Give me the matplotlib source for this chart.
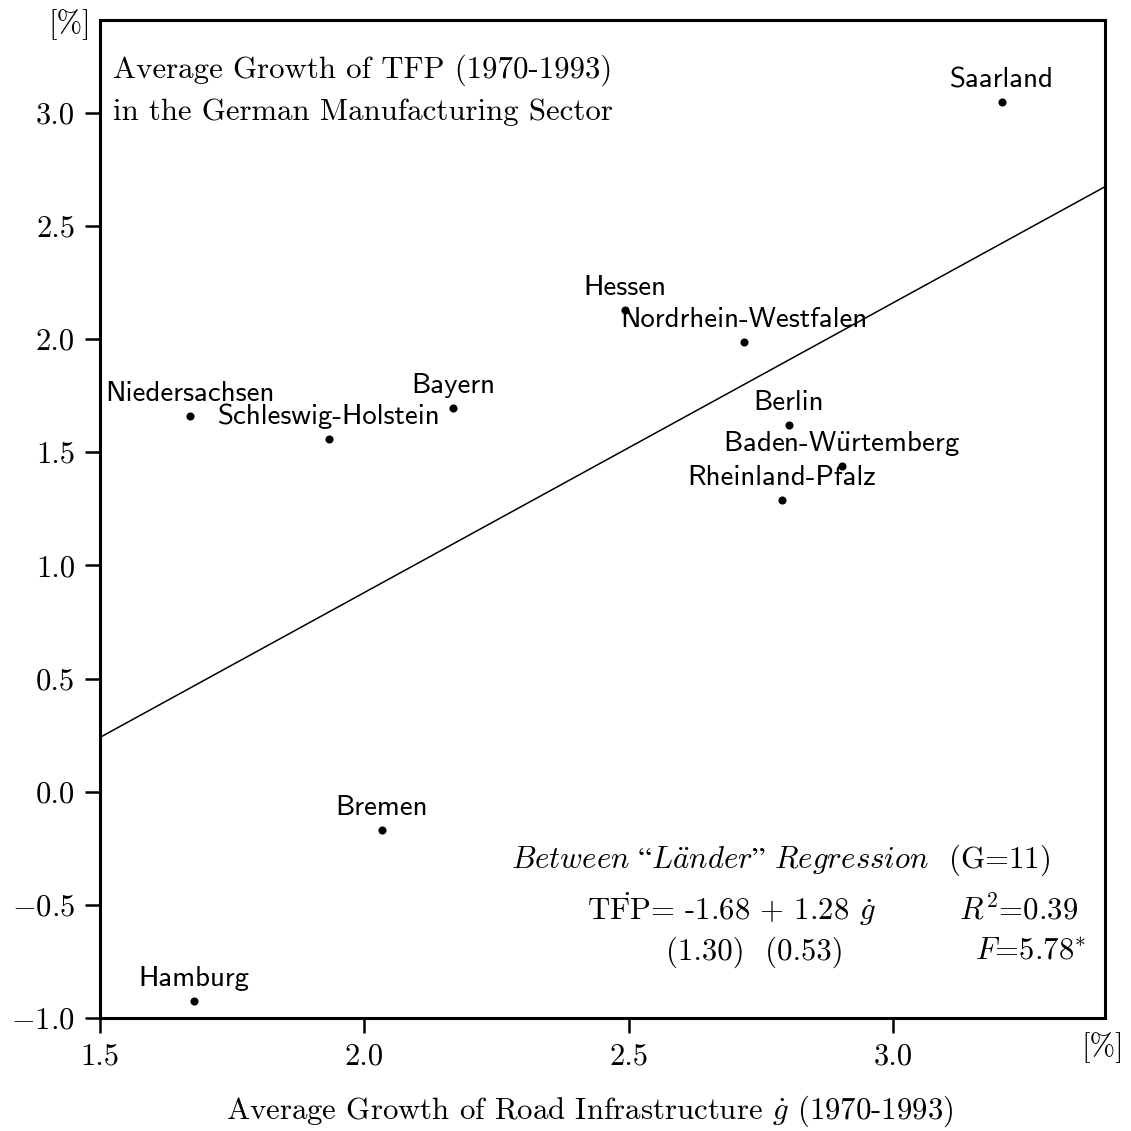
import matplotlib
matplotlib.use("Agg")
import matplotlib.pyplot as plt
import numpy as np

plt.rcParams['mathtext.fontset'] = 'cm'
plt.rcParams['font.family'] = ['cmr10', 'DejaVu Serif']
plt.rcParams['axes.unicode_minus'] = False

# Data
regions = ["Saarland", "Hessen", "Nordrhein-Westfalen", "Bayern", "Niedersachsen",
           "Schleswig-Holstein", "Berlin", r"Baden-W$\ddot{\mathsf{u}}$rtemberg",
           "Rheinland-Pfalz", "Bremen", "Hamburg"]
road_growth = [3.206, 2.493, 2.718, 2.168, 1.670, 1.933, 2.803, 2.903, 2.790, 2.033, 1.678]
tfp_growth = [3.049, 2.129, 1.988, 1.696, 1.661, 1.559, 1.621, 1.440, 1.289, -0.169, -0.925]
intercept = -1.68
slope = 1.28
xticks = [1.5, 2.0, 2.5, 3.0]
xticklabels = ["1.5", "2.0", "2.5", "3.0"]
yticks = [-1.0, -0.5, 0.0, 0.5, 1.0, 1.5, 2.0, 2.5, 3.0]
yticklabels = [r"$-1.0$", r"$-0.5$", "0.0", "0.5", "1.0", "1.5", "2.0", "2.5", "3.0"]

W = H = 1131
fig = plt.figure(figsize=(W / 100, H / 100), dpi=100)
ax = fig.add_axes([100 / W, 1 - 1018 / H, (1105 - 100) / W, (1018 - 20) / H])
ax.set_xlim(1.5, 3.401)
ax.set_ylim(-1.0, 3.41)

for s in ax.spines.values():
    s.set_linewidth(2.2)

ax.set_xticks(xticks)
ax.set_xticklabels(xticklabels)
ax.set_yticks(yticks)
ax.set_yticklabels(yticklabels)
ax.tick_params(direction='out', length=11, width=1.8, labelsize=22, pad=7)

# regression line
xl = np.array(ax.get_xlim())
ax.plot(xl, intercept + slope * xl, color='black', lw=1.1)

ax.scatter(road_growth, tfp_growth, s=34, color='black', zorder=3, linewidths=0)
for name, x, y in zip(regions, road_growth, tfp_growth):
    ax.annotate(name, (x, y), xytext=(0, 10.5), textcoords='offset points',
                ha='center', va='baseline', fontsize=20.8, family='cmss10')

def px(x, y):
    return x / W, 1 - y / H

fs = 22.2
fig.text(*px(113, 78), "Average Growth of TFP (1970-1993)", fontsize=fs, va='baseline')
fig.text(*px(113, 120), "in the German Manufacturing Sector", fontsize=fs, va='baseline')

fig.text(*px(91, 32), "[%]", fontsize=fs, ha='right', va='baseline')
fig.text(*px(1124, 1055), "[%]", fontsize=fs, ha='right', va='baseline')

fig.text(*px(590, 1119), r"Average Growth of Road Infrastructure $\dot{g}$ (1970-1993)",
         fontsize=fs, ha='center', va='baseline')

fig.text(*px(1050, 868), r"$\mathit{Between\ “L\ddot{a}nder”\ Regression}$  (G=11)",
         fontsize=fs, ha='right', va='baseline')
fig.text(*px(587, 920), r"$\dot{\mathrm{TFP}}$= -1.68 + 1.28 $\dot{g}$",
         fontsize=fs, ha='left', va='baseline')
fig.text(*px(1078, 920), r"$R^2$=0.39", fontsize=fs, ha='right', va='baseline')
fig.text(*px(666, 960), "(1.30)  (0.53)", fontsize=fs, ha='left', va='baseline')
fig.text(*px(1086, 960), r"$F$=5.78$^{*}$", fontsize=fs, ha='right', va='baseline')

fig.savefig("out.png", dpi=100)
